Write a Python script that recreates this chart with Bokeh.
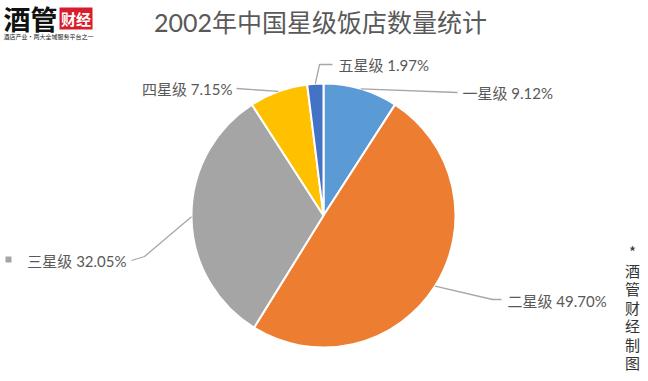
import math
from bokeh.plotting import figure
from bokeh.models import Range1d
from bokeh.core.properties import value
from bokeh.embed import file_html
from bokeh.resources import INLINE

# ---- data ----
categories = ["一星级", "二星级", "三星级", "四星级", "五星级"]
shares = [9.12, 49.70, 32.05, 7.15, 1.97]
colors = ["#5B9BD5", "#ED7D31", "#A5A5A5", "#FFC000", "#4472C4"]
title_text = "2002年中国星级饭店数量统计"
credit_chars = ["*", "酒", "管", "财", "经", "制", "图"]

W, H = 648, 381
def fx(rx):
    return rx
def fy(ry):
    return H - ry

p = figure(width=W, height=H, x_range=Range1d(0, W), y_range=Range1d(0, H),
           output_backend="svg", toolbar_location=None,
           x_axis_type=None, y_axis_type=None, min_border=0)
p.grid.visible = False
p.outline_line_color = None

FONT = value("Lato, 'Noto Sans CJK SC'")

# ---- pie ----
cx, cy, R = fx(323), fy(215), 132
total = sum(shares)
starts, ends, mids = [], [], []
cum = 0.0
for s in shares:
    a0 = math.pi / 2 - 2 * math.pi * cum / total
    cum += s
    a1 = math.pi / 2 - 2 * math.pi * cum / total
    starts.append(a0)
    ends.append(a1)
    mids.append((a0 + a1) / 2)

p.wedge(x=[cx] * len(shares), y=[cy] * len(shares), radius=R,
        start_angle=starts, end_angle=ends, direction="clock",
        fill_color=colors, line_color="white", line_width=2)

# ---- labels with leader lines ----
layout = {
    "一星级": dict(tx=462, ty=92, align="left", pts=[(457, 92)]),
    "二星级": dict(tx=507, ty=300, align="left", pts=[(492, 299), (501, 299)]),
    "三星级": dict(tx=126, ty=260, align="right", pts=[(144, 256), (131, 260)]),
    "四星级": dict(tx=232, ty=88, align="right", pts=[(236, 88)]),
    "五星级": dict(tx=338, ty=64, align="left", pts=[(319, 64), (332, 64)]),
}
for cat, s, m in zip(categories, shares, mids):
    L = layout[cat]
    sx = cx + R * math.cos(m)
    sy = cy + R * math.sin(m)
    xs = [sx] + [fx(a) for a, b in L["pts"]]
    ys = [sy] + [fy(b) for a, b in L["pts"]]
    p.line(xs, ys, line_color="#A6A6A6", line_width=1.3)
    p.text(x=[fx(L["tx"])], y=[fy(L["ty"])], text=[f"{cat} {s:.2f}%"],
           text_font=FONT, text_font_size="15px", text_color="#595959",
           text_align=L["align"], text_baseline="middle")

p.scatter(x=[fx(8)], y=[fy(259)], marker="square", size=6,
          fill_color="#A5A5A5", line_color=None)

# ---- title ----
p.text(x=[fx(320)], y=[fy(21)], text=[title_text], text_font=FONT,
       text_font_size="25px", text_color="#595959",
       text_align="center", text_baseline="middle")

# ---- logo ----
p.text(x=[fx(3)], y=[fy(18)], text=["酒管"], text_font=value("Noto Sans CJK SC"),
       text_font_size="27px", text_font_style="bold", text_color="#111111",
       text_align="left", text_baseline="middle")
p.quad(left=[fx(59)], right=[fx(92)], top=[fy(7)], bottom=[fy(29)],
       fill_color="#D81E2C", line_color=None)
p.text(x=[fx(75.5)], y=[fy(18)], text=["财经"], text_font=value("Noto Sans CJK SC"),
       text_font_size="15px", text_font_style="bold", text_color="white",
       text_align="center", text_baseline="middle")
p.text(x=[fx(3)], y=[fy(36)], text=["酒店产业·两大全域服务平台之一"],
       text_font=value("Noto Sans CJK SC"), text_font_size="6px",
       text_color="#222222", text_align="left", text_baseline="middle")

# ---- vertical credit ----
cys = [251, 270, 288, 307, 325, 344, 362]
p.text(x=[fx(632)] * len(credit_chars), y=[fy(v) for v in cys], text=credit_chars,
       text_font=value("Noto Sans CJK SC"), text_font_size="15px",
       text_color="#333333", text_align="center", text_baseline="middle")

open("out.html", "w").write(file_html(p, INLINE))
